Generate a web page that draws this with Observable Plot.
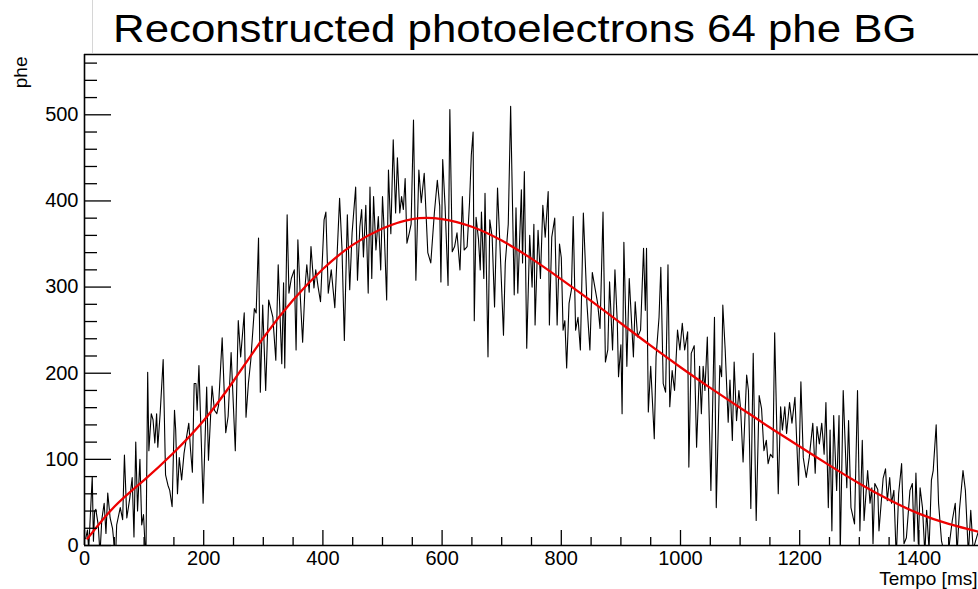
<!DOCTYPE html>
<html><head><meta charset="utf-8">
<script src="https://cdn.jsdelivr.net/npm/d3@7"></script>
<script src="https://cdn.jsdelivr.net/npm/@observablehq/plot@0.6"></script>
<style>
html,body{margin:0;padding:0;background:#fff;overflow:hidden;}
#wrap{position:relative;width:978px;height:589px;font-family:"Liberation Sans",Arial,sans-serif;overflow:hidden;}
#titlebox{position:absolute;left:92px;top:0;width:900px;height:53px;border-left:1px solid #d6d6d6;box-sizing:border-box;background:#fff;}
#title{position:absolute;left:112.5px;top:9px;font-size:39px;line-height:1;white-space:nowrap;transform:scaleX(1.123);transform-origin:0 0;color:#000;}
#chart{position:absolute;left:0;top:53px;}
</style></head>
<body><div id="wrap"><div id="titlebox"></div><div id="title">Reconstructed photoelectrons 64 phe BG</div><div id="chart"></div></div>
<script>
// Measured series: [tempo (ms), phe]
const readings0 = [[2,8],[5,18],[7,-5],[13,80],[15,5],[17,40],[19,42],[23,24],[26,-10],[29,30],[33,49],[36,14],[39,61],[43,32],[47,20],[52,-15],[54,24],[60,44],[64,30],[67,105],[71,32],[76,55],[80,79],[83,10],[86,120],[89,40],[93,100],[96,24],[99,36],[103,-20],[106,201],[108,110],[112,153],[115,146],[118,119],[121,153],[123,114],[127,154],[132,216],[136,82],[140,70],[143,64],[147,45],[151,157]];
const readings1 = [[153,134],[156,60],[159,102],[163,76],[167,107],[171,125],[175,142],[178,110],[181,85],[184,188],[187,188],[189,157],[192,209],[196,120],[199,49],[205,184],[208,99],[214,185],[218,157],[222,153],[225,163],[231,241],[237,131],[241,150],[246,224],[253,110],[258,261],[262,219],[268,270],[271,149],[275,188],[279,215],[285,275],[288,270],[292,357],[295,178],[299,279],[304,180],[309,285],[316,265],[321,215]];
const readings2 = [[325,326],[331,211],[334,305],[336,206],[340,384],[343,293],[347,310],[352,320],[355,227],[358,355],[362,290],[366,236],[370,300],[373,326],[377,294],[380,347],[385,299],[388,320],[392,300],[396,283],[402,378],[405,387],[409,293],[414,320],[420,276],[424,340],[428,403],[432,345],[436,238],[441,384],[445,297],[449,363],[455,416],[458,308],[462,370],[465,390],[468,335],[472,395]];
const readings3 = [[476,293],[479,416],[482,310],[485,405],[489,343],[493,382],[497,320],[500,405],[503,363],[507,285],[510,436],[514,362],[518,471],[522,386],[525,450],[529,386],[532,405],[535,390],[538,426],[541,351],[545,363],[548,373],[552,494],[556,308],[561,436],[565,398],[570,432],[576,340],[581,328],[587,386],[592,424],[596,394],[598,306],[601,448],[605,394],[610,302],[613,506],[617,341],[621,347],[625,363],[630,320],[634,405],[637,343]];
const readings4 = [[642,347],[646,398],[649,453],[652,480],[654,261],[657,381],[661,356],[664,320],[666,387],[670,310],[672,409],[677,219],[680,378],[684,358],[688,277],[693,415],[698,333],[703,244],[706,328],[711,373],[715,510],[721,291],[724,392],[727,293],[733,413],[735,328],[738,434],[742,229],[747,360],[751,300],[754,373],[756,256],[761,366],[765,310],[769,395],[773,358],[778,411],[780,256],[784,358],[789,380],[793,256],[797,350]];
const readings5 = [[800,334],[803,250],[806,261],[809,206],[813,281],[817,297],[820,382],[824,250],[828,265],[832,227],[837,386],[843,281],[848,227],[852,317],[857,297],[861,281],[865,252],[870,387],[874,213],[878,227],[881,306],[886,227],[890,320],[894,258],[896,196],[900,233],[902,153],[905,352],[910,208],[914,310],[918,258],[921,219],[924,283],[928,242],[933,250],[938,345],[941,273],[943,345],[946,155],[950,208],[956,124],[959,219]];
const readings6 = [[964,265],[967,323],[971,188],[975,178],[979,326],[982,161],[986,203],[990,180],[995,250],[999,227],[1003,258],[1007,227],[1012,248],[1014,91],[1018,223],[1023,232],[1027,114],[1032,208],[1035,153],[1038,208],[1041,180],[1045,242],[1051,64],[1057,265],[1060,44],[1066,209],[1069,196],[1071,279],[1075,227],[1080,143],[1083,192],[1087,122],[1090,213],[1094,145],[1098,180],[1101,157],[1105,97],[1111,198],[1114,180],[1118,43]];
const readings7 = [[1122,223],[1127,29],[1132,174],[1136,159],[1140,110],[1144,122],[1147,95],[1151,106],[1155,102],[1158,247],[1164,60],[1168,161],[1171,134],[1175,161],[1178,130],[1183,166],[1187,142],[1192,172],[1198,70],[1202,190],[1206,102],[1211,79],[1216,102],[1222,142],[1226,84],[1229,138],[1233,118],[1237,142],[1241,106],[1244,166],[1248,44],[1251,134],[1254,17],[1257,151],[1262,64],[1266,151],[1268,-10],[1273,180],[1279,67]];
const readings8 = [[1282,145],[1286,44],[1292,25],[1297,180],[1301,17],[1305,122],[1308,29],[1314,87],[1318,49],[1321,67],[1323,2],[1326,72],[1331,65],[1333,17],[1340,78],[1344,89],[1347,52],[1351,79],[1354,49],[1358,64],[1362,-15],[1366,60],[1371,95],[1375,2],[1379,9],[1385,64],[1389,72],[1392,5],[1395,84],[1399,2],[1402,67],[1406,44],[1410,-10],[1413,41],[1417,-5],[1421,76],[1424,87],[1429,140],[1433,49],[1438,5],[1443,-10],[1449,-10],[1456,29],[1461,49],[1464,-10],[1468,41],[1474,87],[1478,64],[1483,-10],[1487,41],[1491,-5],[1495,5],[1500,17]];

// Fitted curve
const fitTime = [5,50,100,150,200,250,300,350,400,450,500,550,600,650,700,750,800,850,900,950,1000,1050,1100,1150,1200,1250,1300,1350,1400,1450,1500];
const fitPhe  = [8,45,76,108,145,191,241,285,321,349,368,379,379,370,354,333,309,284,258,232,207,183,160,137,115,93,72,53,37,25,16];

// Axes
const xMajorTicks = [0,200,400,600,800,1000,1200,1400];
const xMinorTicks = [50,100,150,250,300,350,450,500,550,650,700,750,850,900,950,1050,1100,1150,1250,1300,1350,1450];
const yMajorTicks = [0,100,200,300,400,500];
const yMinorTicks = [20,40,60,80,120,140,160,180,220,240,260,280,320,340,360,380,420,440,460,480,520,540,560];
const xDomain = [0,1500];
const yDomain = [0,570];

const W = 978, H = 536, mL = 84, mR = 0, mT = 1, mB = 44;
const pxX = (W - mL - mR) / (xDomain[1] - xDomain[0]);
const pxY = (H - mT - mB) / (yDomain[1] - yDomain[0]);

const series = [].concat(readings0, readings1, readings2, readings3, readings4, readings5, readings6, readings7, readings8)
  .map(([t, v]) => ({t, v}));
const fit = fitTime.map((t, i) => ({t, v: fitPhe[i]}));

const font = "Liberation Sans, Arial, Helvetica, sans-serif";

const chart = Plot.plot({
  width: W, height: H,
  marginLeft: mL, marginRight: mR, marginTop: mT, marginBottom: mB,
  style: {fontFamily: font, fontSize: "20px", color: "black", background: "white", overflow: "visible"},
  x: {domain: xDomain, axis: null},
  y: {domain: yDomain, axis: null},
  marks: [
    Plot.line(series, {x: "t", y: "v", stroke: "black", strokeWidth: 1.1, clip: true}),
    Plot.line(fit, {x: "t", y: "v", stroke: "#ee0000", strokeWidth: 2.3, curve: "natural", clip: true}),
    Plot.ruleX(xMajorTicks, {x: d => d, y1: 0, y2: 15 / pxY, stroke: "black", strokeWidth: 1.3}),
    Plot.ruleX(xMinorTicks, {x: d => d, y1: 0, y2: 8 / pxY, stroke: "black", strokeWidth: 1.3}),
    Plot.ruleY(yMajorTicks, {y: d => d, x1: 0, x2: 27 / pxX, stroke: "black", strokeWidth: 1.3}),
    Plot.ruleY(yMinorTicks, {y: d => d, x1: 0, x2: 13 / pxX, stroke: "black", strokeWidth: 1.3}),
    Plot.ruleX([0], {stroke: "black", strokeWidth: 1.6}),
    Plot.ruleY([0, yDomain[1]], {stroke: "black", strokeWidth: 1.6}),
    Plot.axisX({ticks: xMajorTicks, tickSize: 0, tickPadding: 5, label: null, fontSize: 20, tickFormat: d => String(d)}),
    Plot.axisY({ticks: yMajorTicks, tickSize: 0, tickPadding: 6, label: null, fontSize: 20, tickFormat: d => String(d)}),
    Plot.text(["phe"], {text: d => d, frameAnchor: "top-left", rotate: -90, textAnchor: "end", lineAnchor: "middle", dx: -63.5, dy: 2, fontSize: 19}),
    Plot.text(["Tempo [ms]"], {text: d => d, frameAnchor: "bottom-right", textAnchor: "end", lineAnchor: "middle", dx: -1, dy: 33, fontSize: 19})
  ]
});
document.getElementById("chart").appendChild(chart);
</script>
</body></html>
